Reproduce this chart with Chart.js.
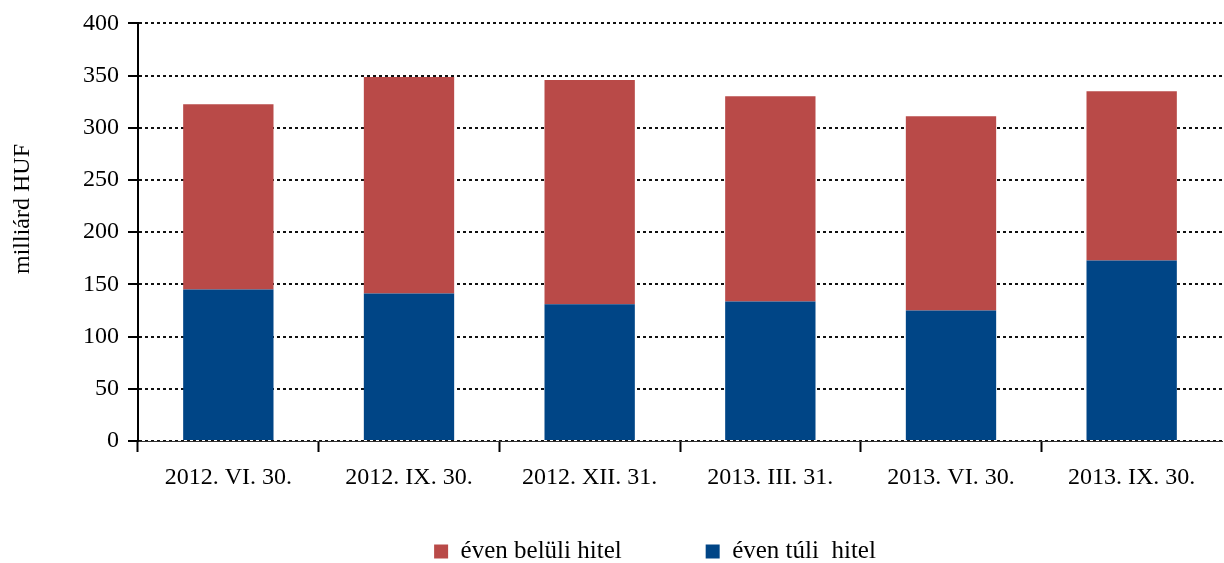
<!DOCTYPE html>
<html>
<head>
<meta charset="utf-8">
<script src="https://cdn.jsdelivr.net/npm/chart.js@4"></script>
<style>
  html, body { margin: 0; padding: 0; background: #fff; }
  #wrap { width: 1224px; height: 563px; }
</style>
</head>
<body>
<div id="wrap"><canvas id="hitelChart"></canvas></div>
<script>
// categories (dates)
const dates = ['2012. VI. 30.', '2012. IX. 30.', '2012. XII. 31.', '2013. III. 31.', '2013. VI. 30.', '2013. IX. 30.'];
// long term loans (blue, bottom)
const tuli = [145.0, 141.3, 131.0, 133.7, 125.0, 172.8];
// short term loans (red, top)
const beluli = [177.6, 207.3, 214.7, 196.6, 186.1, 162.3];
const yTicks = [0, 50, 100, 150, 200, 250, 300, 350, 400];
const yTitle = 'milliárd HUF';

const serif = 'Liberation Serif';

// move the legend a bit (it sits lower and right of centre in the original)
const legendPos = {
    id: 'legendPos',
    afterLayout(chart) {
        const lg = chart.legend;
        if (!lg) return;
        lg.left += 44;
        lg.right += 44;
        lg.top = 455;
        lg.bottom = 563;
    }
};

// y axis title sits above the middle of the axis in the original
const yTitlePlugin = {
    id: 'yTitlePlugin',
    afterDraw(chart) {
        const c = chart.ctx;
        c.save();
        c.translate(23, 209);
        c.rotate(-Math.PI / 2);
        c.font = '24px ' + serif;
        c.fillStyle = '#000';
        c.textAlign = 'center';
        c.textBaseline = 'middle';
        c.fillText(yTitle, 0, 0);
        c.restore();
    }
};

const ctx = document.getElementById('hitelChart').getContext('2d');
const myChart = new Chart(ctx, {
    type: 'bar',
    data: {
        labels: dates,
        datasets: [{
            label: 'éven túli  hitel',
            data: tuli,
            backgroundColor: '#004586',
            barPercentage: 0.5,
            categoryPercentage: 1.0,
            order: 1
        }, {
            label: 'éven belüli hitel',
            data: beluli,
            backgroundColor: '#B94A48',
            barPercentage: 0.5,
            categoryPercentage: 1.0,
            order: 2
        }]
    },
    plugins: [legendPos, yTitlePlugin],
    options: {
        responsive: true,
        maintainAspectRatio: false,
        animation: false,
        layout: { padding: { top: 10, right: 2, left: 0, bottom: 0 } },
        plugins: {
            tooltip: { enabled: false },
            legend: {
                position: 'bottom',
                reverse: true,
                maxHeight: 50,
                labels: {
                    boxWidth: 14,
                    boxHeight: 14,
                    padding: 84,
                    color: '#000',
                    font: { family: serif, size: 25 }
                }
            }
        },
        scales: {
            x: {
                stacked: true,
                afterFit: function(scale) { scale.height = 72; },
                grid: {
                    drawOnChartArea: false,
                    offset: true,
                    tickLength: 11,
                    tickWidth: 2,
                    // no tick mark at the far right end
                    tickColor: c => (c.tick ? '#000' : 'rgba(0,0,0,0)')
                },
                border: { display: true, color: '#333', width: 1 },
                ticks: {
                    color: '#000',
                    padding: 11,
                    maxRotation: 0,
                    font: { family: serif, size: 24 }
                }
            },
            y: {
                stacked: true,
                min: 0,
                max: 400,
                afterFit: function(scale) { scale.width = 138; },
                afterBuildTicks: function(scale) {
                    scale.ticks = yTicks.map(v => ({ value: v }));
                },
                grid: {
                    color: '#111',
                    lineWidth: 2,
                    tickLength: 10,
                    tickWidth: 2,
                    tickColor: '#000'
                },
                border: { display: true, color: '#000', width: 2, dash: [3, 3] },
                ticks: {
                    color: '#000',
                    padding: 9,
                    font: { family: serif, size: 24 }
                }
            }
        }
    }
});
</script>
</body>
</html>
